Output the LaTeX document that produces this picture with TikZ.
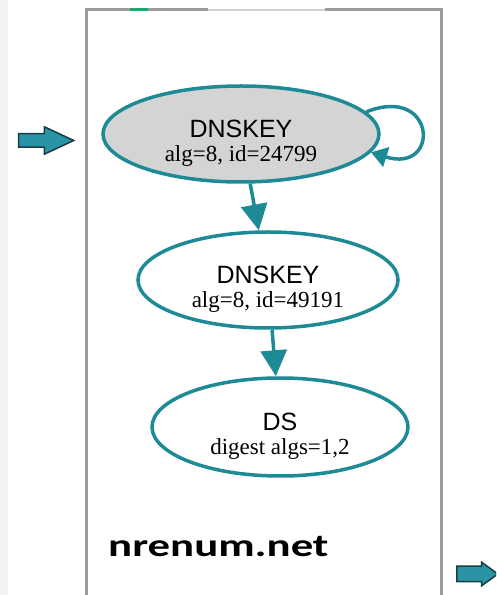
\documentclass[tikz,border=0pt]{standalone}
\usepackage{graphicx}
\usepackage{fontspec}
\setmainfont{Liberation Serif}
\setsansfont{Liberation Sans}
\newfontfamily\zonefont{Carlito}
\usepackage{tikz}
\usetikzlibrary{arrows.meta,shapes.geometric,shapes.arrows}

\definecolor{dnsteal}{HTML}{1E8A96}
\definecolor{kskgray}{HTML}{D4D4D4}
\definecolor{framegray}{HTML}{9C9C9C}
\definecolor{pointerfill}{HTML}{2A94A4}
\definecolor{pointerline}{HTML}{173E46}

% two-line record label: type in sans, details in serif
\newcommand{\rrtext}[2]{\rule{0pt}{36pt}{\sffamily\fontsize{25}{24}\selectfont #1}\\{\rmfamily #2}}

\begin{document}
\begin{tikzpicture}[x=1pt,y=1pt,>={Triangle[length=26pt,width=26pt]},
  key node/.style={ellipse,draw=dnsteal,line width=3.5pt,fill=white,inner sep=0pt,
    align=center,font=\fontsize{23}{24}\selectfont,minimum width=260pt,minimum height=96pt},
  ksk node/.style={key node,fill=kskgray,minimum width=276pt},
  pointer/.style={single arrow,draw=pointerline,fill=pointerfill,line width=1.5pt,
    inner xsep=0pt}]
  \useasboundingbox (0,0) rectangle (496,595);
  \clip (0,0) rectangle (496,595);
  \fill[gray!10] (0,0) rectangle (8,595);

  % zone box
  \draw[framegray,line width=3pt] (86,-5) -- (86,585) -- (208,585);
  \draw[framegray!45,line width=2pt] (208,585) -- (325,585);
  \draw[framegray,line width=3pt] (325,585) -- (441,585) -- (441,-5);
  \draw[dnsteal!70!green,line width=3pt] (130,585) -- (148,585);

  \node[ksk node] (ksk) at (241,461) {\rrtext{DNSKEY}{alg=8, id=24799}};
  \node[key node] (zsk) at (268,315) {\rrtext{DNSKEY}{alg=8, id=49191}};
  \node[key node,minimum width=256pt,minimum height=98pt] (ds) at (280,168) {\rrtext{DS}{digest algs=1,2}};
  \node[anchor=base west,inner sep=0pt] (zone) at (108,38)
    {\scalebox{1.4}[1]{\zonefont\bfseries\fontsize{32}{32}\selectfont nrenum.net}};

  \node[pointer,inner ysep=6pt,single arrow head extend=7pt,single arrow tip angle=50,
    minimum height=55pt] (inptr) at (39,454.5) {};
  \node[pointer,inner ysep=7pt,single arrow head extend=4pt,single arrow tip angle=72,
    minimum height=41pt] (outptr) at (472,21) {};

  \path[color=dnsteal,line width=3.5pt,->]
    (ksk) edge (zsk)
    (zsk) edge (ds);
  \draw[dnsteal,line width=3.5pt,-{Triangle[length=16pt,width=20pt]}]
    (ksk.10) .. controls +(70,28) and +(70,-22) .. (ksk.-8);
\end{tikzpicture}
\end{document}
